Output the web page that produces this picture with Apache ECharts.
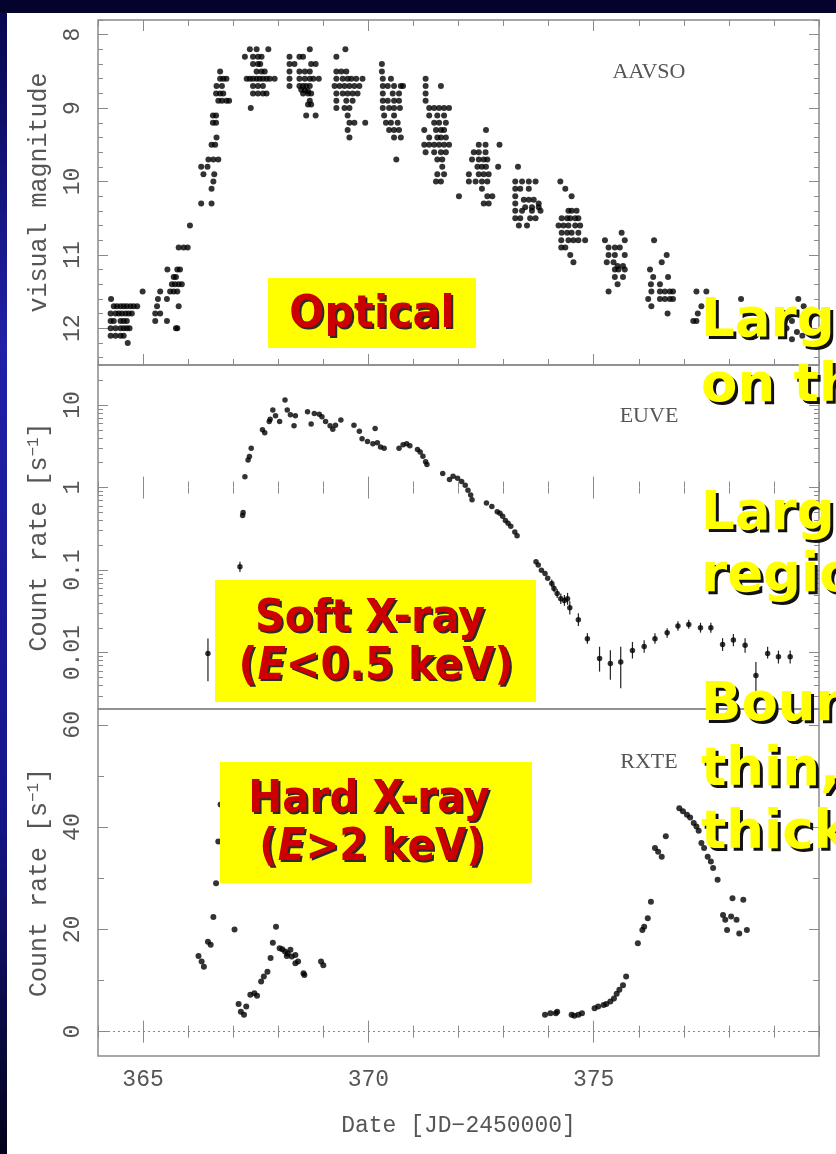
<!DOCTYPE html>
<html><head><meta charset="utf-8">
<script src="https://cdn.jsdelivr.net/npm/echarts@6/dist/echarts.min.js"></script>
<style>html,body{margin:0;padding:0;background:#fff}#c{width:836px;height:1154px}</style>
</head><body><div id="c"></div>
<script>
// ---------------- data ----------------
const xMin = 364, xMax = 380;
const xMajor = [365, 370, 375];
const xTickLabels = ['365', '370', '375'];

const optYMin = 7.8, optYMax = 12.5;
const optMajor = [8, 9, 10, 11, 12];
const optTickLabels = ['8', '9', '10', '11', '12'];

const euveYMin = 0.00208, euveYMax = 30.5;
const euveMajor = [0.01, 0.1, 1, 10];
const euveTickLabels = ['0.01', '0.1', '1', '10'];
const euveMinor = [0.003,0.004,0.005,0.006,0.007,0.008,0.009,0.02,0.03,0.04,0.05,0.06,0.07,0.08,0.09,
                   0.2,0.3,0.4,0.5,0.6,0.7,0.8,0.9,2,3,4,5,6,7,8,9,20,30];

const rxteYMin = -4.76, rxteYMax = 63.1;
const rxteMajor = [0, 20, 40, 60];
const rxteTickLabels = ['0', '20', '40', '60'];
const rxteMinor = [10, 30, 50];

// AAVSO visual magnitudes [JD-2450000, mag]
const opticalPoints = [
 [364.29,11.6],[364.35,11.7],[364.42,11.7],[364.50,11.7],[364.57,11.7],[364.64,11.7],[364.72,11.7],[364.79,11.7],[364.87,11.7],
 [364.28,11.8],[364.39,11.8],[364.46,11.8],[364.53,11.8],[364.61,11.8],[364.68,11.8],[364.75,11.8],
 [364.28,11.9],[364.35,11.9],[364.50,11.9],[364.57,11.9],[364.64,11.9],
 [364.28,12.0],[364.39,12.0],[364.50,12.0],[364.57,12.0],[364.64,12.0],[364.70,12.0],
 [364.28,12.1],[364.39,12.1],[364.50,12.1],[364.57,12.1],[364.66,12.2],[364.99,11.5],
 [365.38,11.5],[365.33,11.6],[365.53,11.6],[365.31,11.7],[365.79,11.7],[365.27,11.8],[365.38,11.8],[365.27,11.9],[365.53,11.9],[365.73,12.0],[365.76,12.0],
 [365.54,11.2],[365.76,11.2],[365.82,11.2],[365.68,11.3],[365.73,11.3],[365.64,11.4],[365.71,11.4],[365.79,11.4],[365.86,11.4],[365.60,11.5],[365.68,11.5],[365.76,11.5],
 [365.79,10.9],[365.90,10.9],[365.99,10.9],[366.04,10.6],
 [366.29,10.3],[366.52,10.3],[366.52,10.1],[366.56,10.0],[366.34,9.9],[366.58,9.9],[366.29,9.8],[366.43,9.8],[366.45,9.7],[366.56,9.7],[366.67,9.7],
 [366.52,9.5],[366.60,9.5],[366.63,9.4],[366.55,9.2],[366.62,9.2],[366.55,9.1],[366.62,9.1],[366.67,8.9],[366.75,8.9],[366.85,8.9],[366.91,8.9],
 [366.62,8.8],[366.71,8.8],[366.78,8.8],[366.63,8.7],[366.75,8.7],[366.71,8.6],[366.78,8.6],[366.85,8.6],[366.71,8.5],
 [367.26,8.3],[367.37,8.2],[367.44,8.3],[367.55,8.3],[367.63,8.3],[367.78,8.2],[367.52,8.2],
 [367.44,8.4],[367.55,8.4],[367.60,8.4],[367.52,8.5],[367.63,8.5],[367.70,8.5],
 [367.30,8.6],[367.37,8.6],[367.44,8.6],[367.52,8.6],[367.59,8.6],[367.66,8.6],[367.74,8.6],[367.81,8.6],[367.92,8.6],
 [367.44,8.7],[367.55,8.7],[367.66,8.7],[367.44,8.8],[367.55,8.8],[367.66,8.8],[367.74,8.8],[367.39,9.0],
 [368.25,8.3],[368.36,8.4],[368.47,8.3],[368.55,8.3],[368.70,8.2],[368.73,8.4],[368.83,8.4],[368.25,8.4],
 [368.25,8.5],[368.47,8.5],[368.59,8.5],[368.70,8.5],
 [368.25,8.6],[368.47,8.6],[368.59,8.6],[368.70,8.6],[368.78,8.6],[368.90,8.6],
 [368.25,8.7],[368.47,8.7],[368.55,8.7],[368.62,8.7],[368.70,8.7],[368.51,8.75],[368.59,8.76],[368.66,8.77],
 [368.55,8.8],[368.66,8.8],[368.73,8.8],[368.70,8.9],[368.73,8.95],[368.66,8.95],[368.62,9.1],[368.83,9.1],
 [369.29,8.3],[369.49,8.2],[369.29,8.5],[369.40,8.5],[369.51,8.5],
 [369.29,8.6],[369.43,8.6],[369.54,8.6],[369.62,8.6],[369.73,8.6],[369.87,8.6],
 [369.25,8.7],[369.36,8.7],[369.47,8.7],[369.58,8.7],[369.69,8.7],[369.80,8.7],
 [369.29,8.8],[369.43,8.8],[369.54,8.8],[369.65,8.8],[369.76,8.8],
 [369.29,8.9],[369.51,8.9],[369.65,8.9],[369.29,9.0],[369.47,9.0],[369.58,9.0],
 [369.54,9.1],[369.58,9.2],[369.69,9.2],[369.93,9.2],[369.54,9.3],[369.58,9.4],
 [370.30,8.4],[370.30,8.5],[370.32,8.6],[370.50,8.6],
 [370.32,8.7],[370.43,8.7],[370.57,8.7],[370.72,8.7],[370.77,8.7],
 [370.32,8.8],[370.54,8.8],[370.68,8.8],[370.32,8.9],[370.43,8.9],[370.57,8.9],[370.68,8.9],
 [370.32,9.0],[370.46,9.0],[370.57,9.0],[370.70,9.0],[370.35,9.1],[370.57,9.1],
 [370.39,9.2],[370.50,9.2],[370.65,9.2],[370.46,9.3],[370.57,9.3],[370.68,9.3],
 [370.57,9.4],[370.72,9.4],[370.62,9.7],
 [371.27,8.6],[371.61,8.7],[371.27,8.7],[371.27,8.8],[371.27,8.9],
 [371.35,9.0],[371.46,9.0],[371.57,9.0],[371.68,9.0],[371.79,9.0],
 [371.35,9.1],[371.53,9.1],[371.68,9.1],[371.46,9.2],[371.57,9.2],[371.72,9.2],
 [371.24,9.3],[371.50,9.3],[371.61,9.3],[371.68,9.3],[371.35,9.4],[371.53,9.4],[371.61,9.4],[371.72,9.4],
 [371.24,9.5],[371.35,9.5],[371.46,9.5],[371.57,9.5],[371.68,9.5],[371.79,9.5],
 [371.27,9.6],[371.46,9.6],[371.61,9.6],[371.72,9.6],
 [371.53,9.7],[371.64,9.7],[371.64,9.8],[371.53,9.9],[371.68,9.9],[371.50,10.0],[371.61,10.0],[372.01,10.2],
 [372.61,9.3],[372.45,9.5],[372.60,9.5],[372.91,9.5],[372.34,9.6],[372.45,9.6],[372.60,9.6],
 [372.30,9.7],[372.45,9.7],[372.56,9.7],[372.64,9.7],[372.42,9.8],[372.52,9.8],[372.61,9.8],[372.88,9.8],
 [372.23,9.9],[372.45,9.9],[372.56,9.9],[372.67,9.9],[372.23,10.0],[372.38,10.0],[372.52,10.0],[372.64,10.0],
 [372.52,10.1],[372.64,10.2],[372.75,10.2],[372.56,10.3],[372.67,10.3],
 [373.32,9.8],[373.26,10.0],[373.41,10.0],[373.56,10.0],[373.71,10.0],
 [373.26,10.1],[373.37,10.1],[373.56,10.1],
 [373.26,10.2],[373.45,10.25],[373.56,10.25],[373.67,10.25],[373.78,10.3],
 [373.26,10.3],[373.48,10.35],[373.63,10.35],[373.78,10.35],
 [373.26,10.4],[373.41,10.4],[373.63,10.4],[373.82,10.4],
 [373.26,10.5],[373.37,10.5],[373.59,10.5],[373.71,10.5],[373.34,10.6],[373.52,10.6],
 [374.26,10.0],[374.37,10.1],[374.51,10.2],[374.44,10.4],[374.51,10.4],[374.62,10.4],
 [374.29,10.5],[374.41,10.5],[374.48,10.5],[374.59,10.5],[374.66,10.5],
 [374.22,10.6],[374.33,10.6],[374.44,10.6],[374.59,10.6],[374.70,10.6],
 [374.29,10.7],[374.41,10.7],[374.51,10.7],[374.66,10.7],[374.81,10.8],
 [374.28,10.8],[374.44,10.8],[374.55,10.8],[374.66,10.8],
 [374.28,10.9],[374.37,10.9],[374.48,11.0],[374.55,11.1],
 [375.62,10.7],[375.25,10.8],[375.69,10.8],[375.33,10.9],[375.47,10.9],[375.58,10.9],
 [375.33,11.0],[375.47,11.0],[375.69,11.0],[375.29,11.1],[375.44,11.1],[375.53,11.15],[375.65,11.15],
 [375.47,11.2],[375.55,11.2],[375.69,11.2],[375.47,11.3],[375.65,11.3],[375.33,11.5],[375.53,11.4],
 [376.34,10.8],[376.62,11.0],[376.51,11.1],[376.25,11.2],[376.32,11.3],[376.65,11.3],
 [376.27,11.4],[376.47,11.4],[376.28,11.5],[376.47,11.5],[376.58,11.5],[376.69,11.5],[376.76,11.5],
 [376.21,11.6],[376.47,11.6],[376.58,11.6],[376.69,11.6],[376.76,11.6],[376.28,11.7],[376.64,11.8],
 [377.28,11.5],[377.50,11.5],[377.39,11.7],[377.68,11.7],[377.31,11.8],[377.64,11.8],[377.21,11.9],[377.28,11.9],[377.64,12.0],
 [378.27,11.6],
 [379.54,11.6],[379.66,11.7],[379.74,11.8],[379.40,11.9],[379.28,12.0],[379.51,12.05],[379.63,12.1],[379.40,12.15]
];

// EUVE count rate [JD-2450000, s^-1]
const euvePoints = [
 [366.44,0.0098],[367.15,0.11],[367.21,0.46],[367.22,0.50],[367.26,1.35],[367.33,2.15],[367.36,2.37],[367.40,3.0],
 [367.65,5.0],[367.70,4.6],[367.80,6.3],[367.82,6.7],[367.88,8.7],[367.94,7.4],[368.03,6.3],[368.15,11.5],[368.20,8.7],
 [368.27,7.6],[368.35,5.6],[368.38,7.4],[368.65,8.3],[368.73,5.9],[368.80,7.9],[368.91,7.7],[368.97,7.2],[369.05,6.3],
 [369.15,5.6],[369.21,5.1],[369.27,5.7],[369.39,6.6],[369.68,5.7],[369.80,4.8],[369.86,3.9],[369.98,3.6],[370.10,3.4],
 [370.15,5.2],[370.20,3.5],[370.27,3.1],[370.35,3.0],[370.68,3.0],[370.77,3.3],[370.85,3.4],[370.92,3.2],[371.09,2.9],
 [371.15,2.7],[371.21,2.4],[371.27,2.05],[371.30,1.9],[371.65,1.48],[371.80,1.25],[371.88,1.37],[371.98,1.3],[372.07,1.18],
 [372.15,1.07],[372.21,0.93],[372.27,0.81],[372.30,0.71],[372.62,0.65],[372.74,0.59],[372.86,0.51],[372.92,0.49],
 [372.98,0.45],[373.04,0.40],[373.10,0.37],[373.16,0.34],[373.25,0.29],[373.30,0.26],[373.72,0.126],[373.77,0.115],
 [373.84,0.10],[373.92,0.091],[373.98,0.08],[374.07,0.069],[374.12,0.06],[374.19,0.052],[374.27,0.045],[374.35,0.043],
 [374.42,0.045],[374.47,0.035],[374.66,0.025],[374.86,0.0148],[375.13,0.0085],[375.37,0.0074],[375.60,0.0077],
 [375.86,0.0106],[376.12,0.0119],[376.36,0.0148],[376.63,0.0174],[376.87,0.021],[377.11,0.022],[377.37,0.0201],
 [377.60,0.0201],[377.86,0.0126],[378.10,0.0142],[378.36,0.0123],[378.60,0.0053],[378.86,0.0098],[379.10,0.0089],[379.36,0.0089]
];
// EUVE error bars [day, low, high]
const euveErrors = [
 [366.44,0.0045,0.0149],[367.15,0.095,0.126],[374.07,0.062,0.077],[374.12,0.054,0.067],[374.19,0.046,0.059],
 [374.27,0.039,0.052],[374.35,0.037,0.050],[374.42,0.038,0.053],[374.47,0.029,0.042],[374.66,0.021,0.030],
 [374.86,0.0128,0.0172],[375.13,0.0059,0.0118],[375.37,0.0047,0.0107],[375.60,0.0037,0.0118],[375.86,0.0085,0.0135],
 [376.12,0.0100,0.0141],[376.36,0.0128,0.0172],[376.63,0.0152,0.0198],[376.87,0.0185,0.0240],[377.11,0.0195,0.0250],
 [377.37,0.0175,0.0230],[377.60,0.0175,0.0230],[377.86,0.0105,0.0150],[378.10,0.0120,0.0168],[378.36,0.0100,0.0150],
 [378.60,0.0032,0.0077],[378.86,0.0085,0.0118],[379.10,0.0074,0.0106],[379.36,0.0074,0.0106]
];

// RXTE count rate [JD-2450000, s^-1]
const rxtePoints = [
 [366.23,14.8],[366.30,13.7],[366.35,12.7],[366.44,17.6],[366.50,17.0],[366.56,22.4],[366.62,29.0],[366.67,37.2],[366.72,44.4],
 [367.03,20.0],[367.12,5.4],[367.17,3.9],[367.24,3.3],[367.29,4.9],[367.38,7.2],[367.47,7.5],[367.53,7.0],[367.62,9.8],
 [367.68,10.8],[367.76,11.7],[367.83,14.4],[367.88,17.4],[367.95,20.5],[368.03,16.3],[368.09,16.1],[368.15,15.7],
 [368.21,15.3],[368.27,16.0],[368.19,14.8],[368.30,14.7],[368.38,15.0],[368.38,13.4],[368.44,13.7],[368.56,11.4],
 [368.58,11.1],[368.95,13.7],[369.00,13.0],
 [373.92,3.3],[374.04,3.6],[374.16,3.6],[374.19,3.9],[374.51,3.3],[374.57,3.1],[374.66,3.3],[374.74,3.6],
 [375.02,4.6],[375.10,4.9],[375.22,5.2],[375.28,5.4],[375.37,5.9],[375.45,6.5],[375.51,7.4],[375.57,8.2],[375.65,9.1],
 [375.72,10.8],[375.98,17.3],[376.08,19.9],[376.12,20.5],[376.20,22.2],[376.27,25.4],[376.36,35.9],[376.43,35.2],
 [376.51,34.2],[376.60,38.2],[376.90,43.7],[376.98,43.1],[377.07,42.4],[377.14,41.9],[377.22,40.8],[377.28,40.1],
 [377.33,39.3],[377.39,36.9],[377.45,35.9],[377.53,34.2],[377.60,33.3],[377.65,32.0],[377.75,29.7],[377.87,22.8],
 [377.92,21.9],[377.96,19.9],[378.08,26.1],[378.32,25.8],[378.05,22.5],[378.17,21.9],[378.23,19.2],[378.40,19.9]
];

// ---------------- layout / style ----------------
const tickColor = '#8a8a8a';
const labelFont = 'Liberation Mono';
const labelColor = '#555';
const grids = [
  {left: 98, right: 17, top: 20, height: 345},
  {left: 98, right: 17, top: 365, height: 344},
  {left: 98, right: 17, top: 709, height: 347}
];

function tickAxis(gridIndex, position, min, max, length, opts) {
  const a = {
    type: 'value', gridIndex, position, min, max,
    axisLine: {show: false}, splitLine: {show: false}, axisLabel: {show: false},
    axisTick: {show: true, inside: true, length, lineStyle: {color: tickColor, width: 1}}
  };
  return Object.assign(a, opts || {});
}
function lookup(vals, labels) {
  return v => { for (let i = 0; i < vals.length; i++) if (Math.abs(v - vals[i]) < 1e-6) return labels[i]; return ''; };
}

const xAxes = [], yAxes = [];
for (let g = 0; g < 3; g++) {
  const last = g === 2;
  const xMain = tickAxis(g, 'bottom', xMin, xMax, 6, {interval: 1});
  if (last) {
    xMain.axisLabel = {show: true, customValues: xMajor, formatter: lookup(xMajor, xTickLabels),
      margin: 12, color: labelColor, fontFamily: labelFont, fontSize: 23};
    xMain.name = 'Date [JD\u22122450000]';
    xMain.nameLocation = 'middle';
    xMain.nameGap = 58;
    xMain.nameTextStyle = {color: labelColor, fontFamily: labelFont, fontSize: 23};
  }
  xAxes.push(xMain);
  const xMaj = tickAxis(g, 'bottom', xMin, xMax, 11);
  xMaj.axisTick.customValues = xMajor;
  xAxes.push(xMaj);
  xAxes.push(tickAxis(g, 'top', xMin, xMax, 6, {interval: 1}));
  const xMajT = tickAxis(g, 'top', xMin, xMax, 11);
  xMajT.axisTick.customValues = xMajor;
  xAxes.push(xMajT);
}

function yLabel(vals, labels) {
  return {show: true, customValues: vals, formatter: lookup(vals, labels), rotate: 90, margin: 14,
    color: labelColor, fontFamily: labelFont, fontSize: 23};
}
const yNameStyle = {color: labelColor, fontFamily: labelFont, fontSize: 25,
  rich: {sup: {color: labelColor, fontFamily: labelFont, fontSize: 16, verticalAlign: 'top', padding: [0, 0, 10, 0]}}};

// panel 1 (optical, inverted magnitudes)
{
  const main = tickAxis(0, 'left', optYMin, optYMax, 5, {inverse: true, interval: 0.2});
  yAxes.push(main);
  const maj = tickAxis(0, 'left', optYMin, optYMax, 10, {inverse: true});
  maj.axisTick.customValues = optMajor;
  maj.axisLabel = yLabel(optMajor, optTickLabels);
  maj.name = 'visual magnitude'; maj.nameLocation = 'middle'; maj.nameGap = 46; maj.nameTextStyle = yNameStyle;
  yAxes.push(maj);
  yAxes.push(tickAxis(0, 'right', optYMin, optYMax, 5, {inverse: true, interval: 0.2}));
  const majR = tickAxis(0, 'right', optYMin, optYMax, 10, {inverse: true});
  majR.axisTick.customValues = optMajor;
  yAxes.push(majR);
}
// panel 2 (EUVE, logarithmic; axis runs in log10 units)
{
  const lmin = Math.log10(euveYMin), lmax = Math.log10(euveYMax);
  const majL = euveMajor.map(Math.log10), minL = euveMinor.map(Math.log10);
  const main = tickAxis(1, 'left', lmin, lmax, 5);
  main.axisTick.customValues = minL;
  yAxes.push(main);
  const maj = tickAxis(1, 'left', lmin, lmax, 10);
  maj.axisTick.customValues = majL;
  maj.axisLabel = yLabel(majL, euveTickLabels);
  maj.name = 'Count rate [s{sup|\u22121}]'; maj.nameLocation = 'middle'; maj.nameGap = 46; maj.nameTextStyle = yNameStyle;
  yAxes.push(maj);
  const r = tickAxis(1, 'right', lmin, lmax, 5);
  r.axisTick.customValues = minL;
  yAxes.push(r);
  const rM = tickAxis(1, 'right', lmin, lmax, 10);
  rM.axisTick.customValues = majL;
  yAxes.push(rM);
}
// panel 3 (RXTE)
{
  const main = tickAxis(2, 'left', rxteYMin, rxteYMax, 6);
  main.axisTick.customValues = rxteMinor;
  yAxes.push(main);
  const maj = tickAxis(2, 'left', rxteYMin, rxteYMax, 10);
  maj.axisTick.customValues = rxteMajor;
  maj.axisLabel = yLabel(rxteMajor, rxteTickLabels);
  maj.name = 'Count rate [s{sup|\u22121}]'; maj.nameLocation = 'middle'; maj.nameGap = 46; maj.nameTextStyle = yNameStyle;
  yAxes.push(maj);
  const r = tickAxis(2, 'right', rxteYMin, rxteYMax, 6);
  r.axisTick.customValues = rxteMinor;
  yAxes.push(r);
  const rM = tickAxis(2, 'right', rxteYMin, rxteYMax, 10);
  rM.axisTick.customValues = rxteMajor;
  yAxes.push(rM);
}

const dot = {color: '#000'};
const series = [
  {type: 'scatter', xAxisIndex: 0, yAxisIndex: 0, data: opticalPoints, symbolSize: 6, itemStyle: dot, silent: true},
  {type: 'custom', xAxisIndex: 4, yAxisIndex: 4, silent: true,
   data: euveErrors.map(e => [e[0], Math.log10(e[1]), Math.log10(e[2])]),
   renderItem: (params, api) => {
     const p1 = api.coord([api.value(0), api.value(1)]);
     const p2 = api.coord([api.value(0), api.value(2)]);
     return {type: 'line', shape: {x1: p1[0], y1: p1[1], x2: p2[0], y2: p2[1]}, style: {stroke: '#222', lineWidth: 1.2}};
   }},
  {type: 'scatter', xAxisIndex: 4, yAxisIndex: 4, data: euvePoints.map(p => [p[0], Math.log10(p[1])]),
   symbolSize: 5.5, itemStyle: dot, silent: true},
  {type: 'scatter', xAxisIndex: 8, yAxisIndex: 8, data: rxtePoints, symbolSize: 6, itemStyle: dot, silent: true,
   markLine: {silent: true, symbol: 'none', label: {show: false}, animation: false,
     lineStyle: {type: [2, 3], color: '#888', width: 1}, data: [{yAxis: 0}]}}
];

// ---------------- overlay text (with hard drop shadow drawn as an offset copy) ----------------
function txtEl(x, y, text, font, fill, opt) {
  opt = opt || {};
  const align = opt.align || 'center';
  const style = {text, x: 0, y: 0, font, fill,
    textAlign: align, align: align, textVerticalAlign: 'middle', verticalAlign: 'middle'};
  if (opt.rich) style.rich = opt.rich;
  const el = {type: 'text', x, y, z: opt.z || 101, style};
  if (opt.scaleX) el.scaleX = opt.scaleX;
  return el;
}
function shadowed(x, y, text, font, fill, shadowFill, d, opt) {
  opt = opt || {};
  const sh = Object.assign({}, opt, {z: 101, rich: opt.richShadow});
  const fg = Object.assign({}, opt, {z: 102, rich: opt.rich});
  return [txtEl(x + d, y + d, text, font, shadowFill, sh), txtEl(x, y, text, font, fill, fg)];
}
const red = '#cc0000', redShadowCol = '#2b2b2b';
const redFont = 'bold 44px "DejaVu Sans"';
const redItalic = 'italic bold 44px "DejaVu Sans"';
const redRich = {i: {font: redItalic, fill: red}, n: {font: redFont, fill: red}};
const redRichSh = {i: {font: redItalic, fill: redShadowCol}, n: {font: redFont, fill: redShadowCol}};
const yelFont = 'bold 53px "DejaVu Sans"';
const rightLines = [['Large', 322], ['on the', 387], ['Large', 515], ['region', 577], ['Boundary', 706], ['thin,', 771], ['thick', 834]];

let graphic = [
  // slide background frame
  {type: 'rect', z: -100, shape: {x: 0, y: 0, width: 836, height: 1154},
   style: {fill: {type: 'linear', x: 0, y: 0, x2: 0, y2: 1, colorStops: [
     {offset: 0, color: '#06064a'}, {offset: 0.3, color: '#2020a8'}, {offset: 0.7, color: '#15158a'}, {offset: 1, color: '#03031a'}]}}},
  {type: 'rect', z: -99, shape: {x: 0, y: 0, width: 836, height: 13}, style: {fill: '#03032e'}},
  {type: 'rect', z: -98, shape: {x: 7, y: 13, width: 829, height: 1141}, style: {fill: '#ffffff'}},
  // instrument labels
  txtEl(649, 72, 'AAVSO', '22px "Liberation Serif"', '#555'),
  txtEl(649, 416, 'EUVE', '22px "Liberation Serif"', '#555'),
  txtEl(649, 762, 'RXTE', '22px "Liberation Serif"', '#555'),
  // yellow boxes
  {type: 'rect', z: 100, shape: {x: 268, y: 278, width: 208, height: 70}, style: {fill: '#ffff00'}},
  {type: 'rect', z: 100, shape: {x: 215, y: 580, width: 321, height: 122}, style: {fill: '#ffff00'}},
  {type: 'rect', z: 100, shape: {x: 220, y: 762, width: 312, height: 121}, style: {fill: '#ffff00'}}
];
graphic = graphic.concat(
  shadowed(372, 316, 'Optical', redFont, red, redShadowCol, 2, {scaleX: 0.94}),
  shadowed(370, 620, 'Soft X-ray', redFont, red, redShadowCol, 2, {scaleX: 0.94}),
  shadowed(376, 668, '{n|(}{i|E}{n|<0.5 keV)}', redFont, red, redShadowCol, 2, {scaleX: 0.94, rich: redRich, richShadow: redRichSh}),
  shadowed(369, 801, 'Hard X-ray', redFont, red, redShadowCol, 2, {scaleX: 0.92}),
  shadowed(372, 849, '{n|(}{i|E}{n|>2 keV)}', redFont, red, redShadowCol, 2, {scaleX: 0.92, rich: redRich, richShadow: redRichSh})
);
rightLines.forEach(l => { graphic = graphic.concat(shadowed(701, l[1], l[0], yelFont, '#ffff00', '#111', 3, {align: 'left'})); });

const chart = echarts.init(document.getElementById('c'), null, {renderer: 'canvas'});
chart.setOption({
  animation: false,
  backgroundColor: 'transparent',
  grid: grids.map(g => Object.assign({show: true, borderColor: '#8a8a8a', borderWidth: 1.5, backgroundColor: 'transparent'}, g)),
  xAxis: xAxes,
  yAxis: yAxes,
  series,
  graphic
});
</script></body></html>
